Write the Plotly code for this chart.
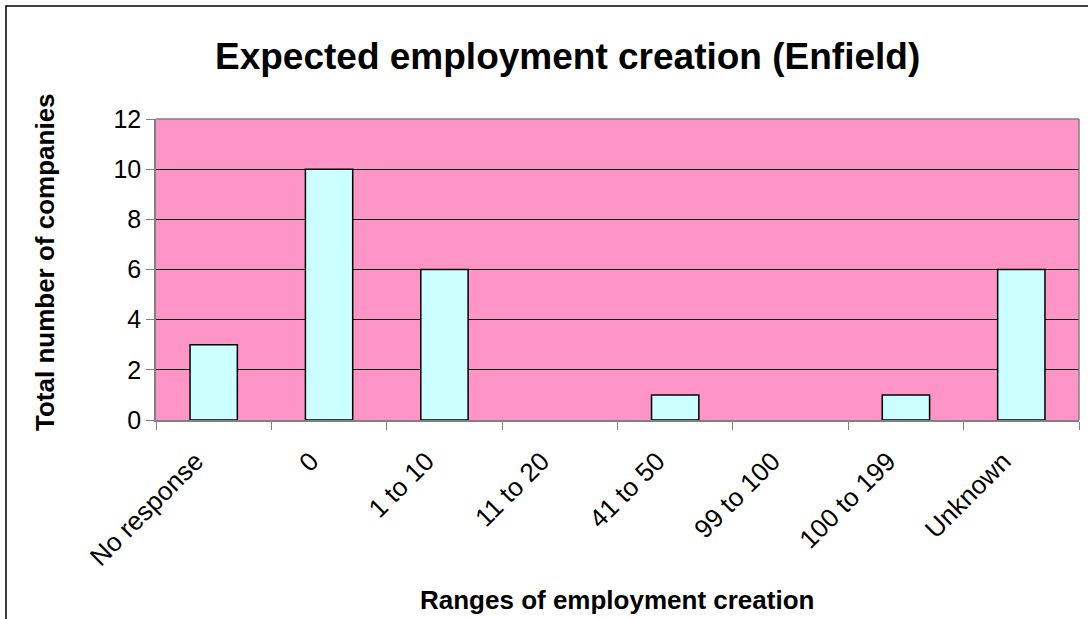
import plotly.graph_objects as go

categories = ["No response", "0", "1 to 10", "11 to 20", "41 to 50", "99 to 100", "100 to 199", "Unknown"]
companies = [3, 10, 6, 0, 1, 0, 1, 6]
y_ticks = [0, 2, 4, 6, 8, 10, 12]

W, H = 1088, 619
L, R, T, B = 156, 9, 119, 199
pw, ph = W - L - R, H - T - B

def px_x(x):
    return (x - L) / pw

def px_y(y):
    return (H - B - y) / ph

FONT = "Liberation Sans, Arial, sans-serif"

fig = go.Figure(go.Bar(
    x=categories, y=companies,
    marker=dict(color="#CCFFFF",
                line=dict(color="#000000", width=[1.5 if v > 0 else 0 for v in companies])),
    width=0.41,
))

fig.update_layout(
    width=W, height=H,
    margin=dict(l=L, r=R, t=T, b=B, autoexpand=False),
    paper_bgcolor="white", plot_bgcolor="#FF94C6",
    showlegend=False,
    font=dict(family=FONT, color="black"),
)
fig.update_xaxes(
    type="category", tickangle=-45, tickfont=dict(size=26, family=FONT),
    ticks="outside", ticklen=8, tickcolor="#808080", tickson="boundaries",
    ticklabelstandoff=14, ticklabelshift=-18,
    showline=True, linecolor="#808080", linewidth=1.5,
    showgrid=False, title=None,
)
fig.update_yaxes(
    range=[0, 12], tickvals=y_ticks, tickfont=dict(size=25, family=FONT),
    ticks="outside", ticklen=8, tickcolor="#808080",
    showline=True, linecolor="#808080", linewidth=1.5,
    showgrid=True, gridcolor="#000000", gridwidth=1,
    zeroline=False, title=None,
)
shapes = [
    dict(type="line", xref="paper", yref="paper", x0=0, x1=1, y0=1, y1=1,
         line=dict(color="#808080", width=1.5)),
    dict(type="line", xref="paper", yref="paper", x0=1, x1=1, y0=0, y1=1,
         line=dict(color="#808080", width=1.5)),
    dict(type="rect", xref="paper", yref="paper",
         x0=px_x(6), x1=px_x(1100), y0=px_y(6), y1=px_y(640),
         line=dict(color="#000000", width=1.5), fillcolor="rgba(0,0,0,0)", layer="below"),
]
fig.update_layout(shapes=shapes)

annotations = [
    dict(text="<b>Expected employment creation (Enfield)</b>", xref="paper", yref="paper",
         x=px_x(567), y=px_y(57), showarrow=False, xanchor="center", yanchor="middle",
         font=dict(size=37, family=FONT)),
    dict(text="<b>Total number of companies</b>", xref="paper", yref="paper",
         x=px_x(45), y=px_y(262), showarrow=False, xanchor="center", yanchor="middle",
         textangle=-90, font=dict(size=26, family=FONT)),
    dict(text="<b>Ranges of employment creation</b>", xref="paper", yref="paper",
         x=px_x(617), y=px_y(600), showarrow=False, xanchor="center", yanchor="middle",
         font=dict(size=26, family=FONT)),
]
fig.update_layout(annotations=annotations)

fig.write_html("out.html", config={"displayModeBar": False},
               post_script="document.body.style.margin='0';document.body.style.overflow='hidden';")
